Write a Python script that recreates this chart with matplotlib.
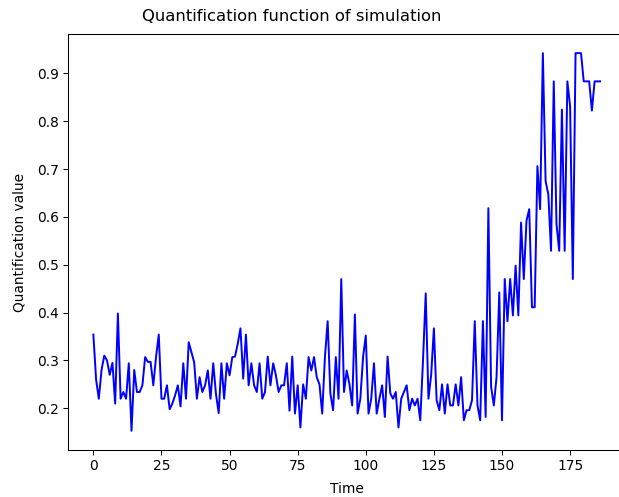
import numpy as np
import matplotlib
matplotlib.use("Agg")
import matplotlib.pyplot as plt

# quantification values, one per time step
q_0_24 = [0.354, 0.26, 0.22, 0.28, 0.31, 0.30, 0.27, 0.295, 0.21, 0.398,
          0.22, 0.234, 0.22, 0.294, 0.153, 0.28, 0.234, 0.234, 0.248, 0.307,
          0.297, 0.297, 0.248, 0.307, 0.354]
q_25_50 = [0.22, 0.22, 0.248, 0.198, 0.21, 0.227, 0.248, 0.204, 0.294, 0.22,
           0.338, 0.317, 0.296, 0.22, 0.265, 0.234, 0.248, 0.279, 0.22, 0.294,
           0.23, 0.19, 0.294, 0.22, 0.294, 0.269]
q_51_76 = [0.307, 0.308, 0.335, 0.367, 0.262, 0.354, 0.248, 0.294, 0.248, 0.234,
           0.294, 0.22, 0.234, 0.308, 0.248, 0.294, 0.269, 0.234, 0.248, 0.248,
           0.294, 0.195, 0.308, 0.189, 0.248, 0.16]
q_77_102 = [0.25, 0.22, 0.307, 0.279, 0.307, 0.265, 0.25, 0.189, 0.307, 0.382,
            0.231, 0.196, 0.307, 0.22, 0.47, 0.234, 0.279, 0.25, 0.206, 0.396,
            0.189, 0.22, 0.307, 0.352, 0.189, 0.22]
q_103_128 = [0.294, 0.189, 0.22, 0.248, 0.182, 0.308, 0.231, 0.22, 0.234, 0.16,
             0.22, 0.234, 0.248, 0.196, 0.22, 0.206, 0.22, 0.175, 0.30, 0.44,
             0.22, 0.27, 0.367, 0.217, 0.196, 0.25]
q_129_153 = [0.189, 0.25, 0.206, 0.206, 0.25, 0.206, 0.265, 0.175, 0.196, 0.196,
             0.217, 0.382, 0.206, 0.175, 0.382, 0.182, 0.618, 0.245, 0.206, 0.265,
             0.442, 0.175, 0.47, 0.382, 0.47]
q_154_177 = [0.394, 0.498, 0.394, 0.588, 0.47, 0.592, 0.616, 0.411, 0.411, 0.706,
             0.616, 0.942, 0.675, 0.647, 0.529, 0.883, 0.585, 0.529, 0.824, 0.529,
             0.883, 0.831, 0.47, 0.942]
q_178_186 = [0.942, 0.942, 0.883, 0.883, 0.883, 0.822, 0.883, 0.883, 0.883]

values = q_0_24 + q_25_50 + q_51_76 + q_77_102 + q_103_128 + q_129_153 + q_154_177 + q_178_186
time = np.arange(len(values))

fig = plt.figure(figsize=(6.586, 5.288), dpi=94)
ax = fig.add_axes([0.1099, 0.0952, 0.9003, 0.8358])
ax.plot(time, values, color="blue")
ax.set_xticks([0, 25, 50, 75, 100, 125, 150, 175])
ax.tick_params(labelsize=10.5)
# the reference is cropped on the right, so no right frame line shows
ax.spines["right"].set_visible(False)
ax.set_xlabel("Time", fontsize=10.5, labelpad=7)
ax.set_ylabel("Quantification value", fontsize=10.5, labelpad=8)
fig.text(0.4712, 0.966, "Quantification function of simulation",
         ha="center", va="center", fontsize=12.5)

fig.savefig("out.png", dpi=94)
